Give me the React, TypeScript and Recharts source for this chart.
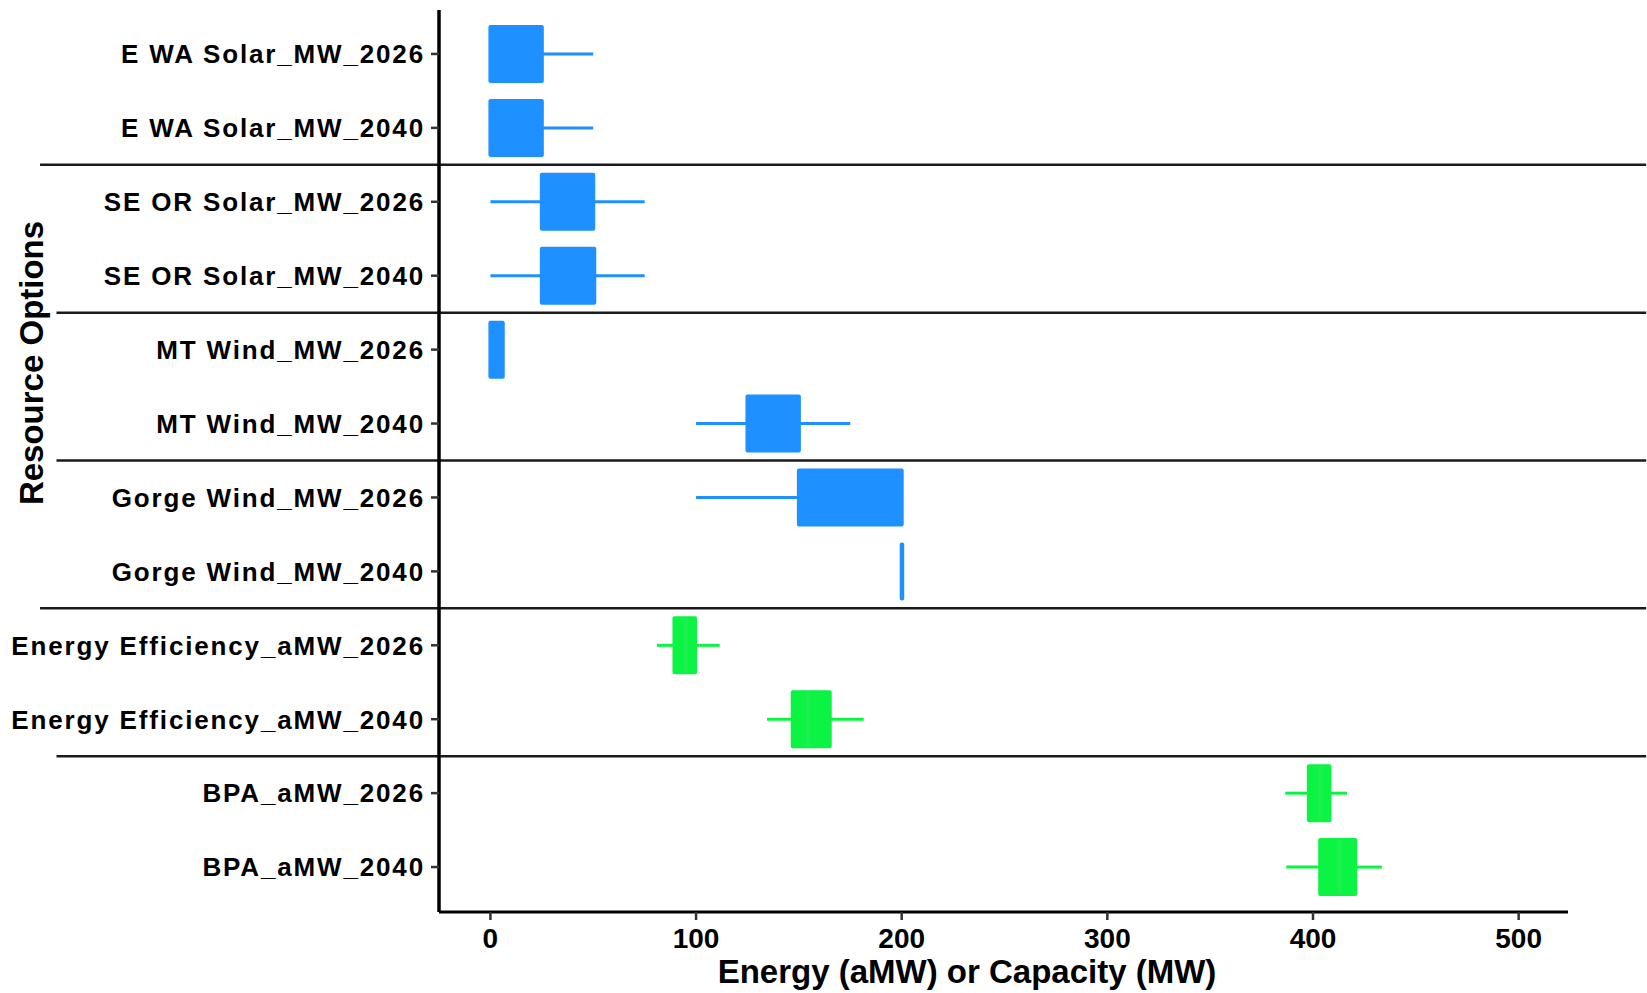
import React from 'react';
import { ComposedChart, Bar, XAxis, YAxis, ReferenceLine } from 'recharts';

// resource options, top to bottom
const categories = [
  'E WA Solar_MW_2026',
  'E WA Solar_MW_2040',
  'SE OR Solar_MW_2026',
  'SE OR Solar_MW_2040',
  'MT Wind_MW_2026',
  'MT Wind_MW_2040',
  'Gorge Wind_MW_2026',
  'Gorge Wind_MW_2040',
  'Energy Efficiency_aMW_2026',
  'Energy Efficiency_aMW_2040',
  'BPA_aMW_2026',
  'BPA_aMW_2040',
];

// box plot stats
const mins = [0, 0, 0, 0, 0, 100, 100, 200, 81, 134.5, 386.5, 387];
const q1s = [0, 0, 25, 25, 0, 125, 150, 200, 89.5, 147, 398, 403.5];
const medians = [12, 12, 38, 38, 3, 138, 175, 200, 95, 154.5, 403.5, 413];
const q3s = [25, 25, 50, 50.5, 6, 150, 200, 200, 99.5, 165, 408, 420.5];
const maxs = [50, 50, 75, 75, 6, 175, 200, 200, 111.5, 181.5, 416.5, 433.5];

const xTicks = [0, 100, 200, 300, 400, 500];

// last option of each group, a separator line goes under it
const groupEnds = [
  { after: 'E WA Solar_MW_2040', from: -219 },
  { after: 'SE OR Solar_MW_2040', from: -211 },
  { after: 'MT Wind_MW_2040', from: -211 },
  { after: 'Gorge Wind_MW_2040', from: -219 },
  { after: 'Energy Efficiency_aMW_2040', from: -211 },
];

const BLUE = '#1E90FF';
const GREEN = '#0CF443';
const GREEN_MEDIAN = '#1DEE52';
const FONT = "'Liberation Sans', Arial, Helvetica, sans-serif";

const colorFor = (name: string) => (name.includes('aMW') ? GREEN : BLUE);

const rows = categories.map((name, i) => ({
  name,
  q1: q1s[i],
  median: medians[i],
  q3: q3s[i],
  base: mins[i],
  lowWhisker: q1s[i] - mins[i],
  box: q3s[i] - q1s[i],
  highWhisker: maxs[i] - q3s[i],
}));

const Empty = () => <g />;

const WhiskerShape = (props: any) => {
  const { x, y, width, height, payload } = props;
  if (!width || width <= 0) return <g />;
  const cy = y + height / 2;
  return <line x1={x} x2={x + width} y1={cy} y2={cy} stroke={colorFor(payload.name)} strokeWidth={3} />;
};

const BoxShape = (props: any) => {
  const { x, y, width, height, payload } = props;
  const c = colorFor(payload.name);
  const span = payload.q3 - payload.q1;
  const w = span > 0 ? Math.max(width || 0, 0) : 0.5;
  const mx = span > 0 ? x + (w * (payload.median - payload.q1)) / span : x;
  return (
    <g>
      <rect x={x} y={y} width={w} height={height} fill={c} stroke={c} strokeWidth={4} strokeLinejoin="round" />
      {c === GREEN && span > 0 && (
        <line x1={mx} x2={mx} y1={y} y2={y + height} stroke={GREEN_MEDIAN} strokeWidth={4} />
      )}
    </g>
  );
};

const YTick = (props: any) => {
  const { x, y, payload } = props;
  return (
    <text x={x} y={y} dy="0.36em" textAnchor="end" fontSize={26} fontWeight={700} fill="#000" fontFamily={FONT} letterSpacing={1.85}>
      {payload.value}
    </text>
  );
};

const XTick = (props: any) => {
  const { x, y, payload } = props;
  return (
    <text x={x} y={y} dy="0.71em" textAnchor="middle" fontSize={28} fontWeight={700} fill="#000" fontFamily={FONT}>
      {payload.value}
    </text>
  );
};

export default function App() {
  return (
    <div style={{ position: 'absolute', left: 0, top: 0, width: 1647, height: 993, background: '#fff' }}>
      <ComposedChart
        width={1647}
        height={993}
        data={rows}
        layout="vertical"
        barSize={54}
        margin={{ top: 10, right: 79, bottom: 0, left: 0 }}
      >
        <XAxis
          type="number"
          domain={[-25, 524]}
          ticks={xTicks}
          height={81}
          axisLine={{ stroke: '#000', strokeWidth: 3 }}
          tickLine={{ stroke: '#333', strokeWidth: 2.5 }}
          tickSize={8}
          tickMargin={8}
          tick={<XTick />}
        />
        <YAxis
          type="category"
          dataKey="name"
          width={439}
          padding={{ top: 7, bottom: 8 }}
          axisLine={{ stroke: '#000', strokeWidth: 3.5 }}
          tickLine={{ stroke: '#333', strokeWidth: 2.5 }}
          tickSize={8}
          tickMargin={6}
          tick={<YTick />}
          interval={0}
        />
        {groupEnds.map((g, i) => (
          <ReferenceLine
            key={i}
            ifOverflow="visible"
            position="end"
            segment={[
              { x: g.from, y: g.after },
              { x: 562, y: g.after },
            ]}
            stroke="#1a1a1a"
            strokeWidth={2.5}
          />
        ))}
        <Bar dataKey="base" stackId="b" shape={<Empty />} isAnimationActive={false} />
        <Bar dataKey="lowWhisker" stackId="b" shape={<WhiskerShape />} isAnimationActive={false} />
        <Bar dataKey="box" stackId="b" shape={<BoxShape />} minPointSize={1} isAnimationActive={false} />
        <Bar dataKey="highWhisker" stackId="b" shape={<WhiskerShape />} isAnimationActive={false} />
      </ComposedChart>
      <svg width={1647} height={993} style={{ position: 'absolute', left: 0, top: 0, pointerEvents: 'none' }}>
        <text x={967} y={983} textAnchor="middle" fontSize={33} fontWeight={700} fill="#000" fontFamily={FONT}>
          Energy (aMW) or Capacity (MW)
        </text>
        <text
          x={43}
          y={363}
          transform="rotate(-90 43 363)"
          textAnchor="middle"
          fontSize={33}
          fontWeight={700}
          fill="#000"
          fontFamily={FONT}
        >
          Resource Options
        </text>
      </svg>
    </div>
  );
}
